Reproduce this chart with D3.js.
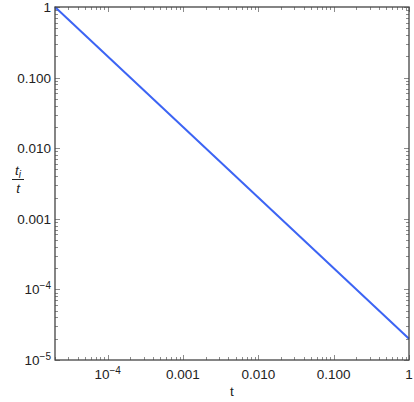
<!DOCTYPE html>
<html>
<head>
<meta charset="utf-8">
<script src="https://cdn.jsdelivr.net/npm/d3@7"></script>
<style>
  body { margin: 0; background: #fff; }
  svg { display: block; font-family: "Liberation Sans", Arial, sans-serif; }
</style>
</head>
<body>
<svg id="chart" width="414" height="402"></svg>
<script>
// data
const tVals = [0.00002, 1];
const ratioVals = [1, 0.00002];
const xTicks = [1e-4, 1e-3, 1e-2, 1e-1, 1];
const xTickLabels = ["10^-4", "0.001", "0.010", "0.100", "1"];
const yTicks = [1e-5, 1e-4, 1e-3, 1e-2, 1e-1, 1];
const yTickLabels = ["10^-5", "10^-4", "0.001", "0.010", "0.100", "1"];

const margin = { top: 7, right: 5, bottom: 42, left: 55 };
const width = 414 - margin.left - margin.right,
      height = 402 - margin.top - margin.bottom;
const fs = 13.5;

const svg = d3.select('#chart');
const g = svg.append('g').attr('transform', `translate(${margin.left},${margin.top})`);

const x = d3.scaleLog().domain([2e-5, 1]).range([0, width]);
const y = d3.scaleLog().domain([1e-5, 1]).range([height, 0]);

// minor ticks 2..9 per decade
function minors(scale) {
  const [a, b] = scale.domain();
  const out = [];
  for (let e = -6; e <= 0; e++) {
    for (let k = 2; k <= 9; k++) {
      const v = k * Math.pow(10, e);
      if (v >= a * 0.999 && v <= b * 1.001) out.push(v);
    }
  }
  return out;
}
const xMinor = minors(x), yMinor = minors(y);

const ticks = g.append('g').attr('stroke', '#8c8c8c').attr('stroke-width', 1);

// bottom + top ticks
[[height, -1], [0, 1]].forEach(([yy, dir]) => {
  ticks.selectAll(null).data(xTicks).join('line')
    .attr('x1', d => Math.round(x(d)) + 0.5).attr('x2', d => Math.round(x(d)) + 0.5)
    .attr('y1', yy).attr('y2', yy + dir * 5);
  ticks.selectAll(null).data(xMinor).join('line')
    .attr('x1', d => Math.round(x(d)) + 0.5).attr('x2', d => Math.round(x(d)) + 0.5)
    .attr('y1', yy).attr('y2', yy + dir * 3);
});
// left + right ticks
[[0, 1], [width, -1]].forEach(([xx, dir]) => {
  ticks.selectAll(null).data(yTicks).join('line')
    .attr('y1', d => Math.round(y(d)) + 0.5).attr('y2', d => Math.round(y(d)) + 0.5)
    .attr('x1', xx).attr('x2', xx + dir * 5);
  ticks.selectAll(null).data(yMinor).join('line')
    .attr('y1', d => Math.round(y(d)) + 0.5).attr('y2', d => Math.round(y(d)) + 0.5)
    .attr('x1', xx).attr('x2', xx + dir * 3);
});

// the line
const line = d3.line().x(d => x(d[0])).y(d => y(d[1]));
g.append('path')
  .datum(tVals.map((t, i) => [t, ratioVals[i]]))
  .attr('d', line)
  .attr('fill', 'none')
  .attr('stroke', '#3c64f4')
  .attr('stroke-width', 2);

// frame
g.append('rect')
  .attr('x', 0).attr('y', 0).attr('width', width).attr('height', height)
  .attr('fill', 'none').attr('stroke', '#444').attr('stroke-width', 1.3);

function writeLabel(sel, label) {
  if (label.includes('^')) {
    const [base, ex] = label.split('^');
    sel.append('tspan').text(base);
    sel.append('tspan').attr('dy', -5.5).attr('font-size', 10).text(ex.replace('-', '\u2212'));
  } else {
    sel.text(label);
  }
}

// x tick labels
xTicks.forEach((v, i) => {
  const t = g.append('text')
    .attr('x', x(v)).attr('y', height + 19)
    .attr('text-anchor', 'middle').attr('font-size', fs).attr('fill', '#222');
  writeLabel(t, xTickLabels[i]);
});
// y tick labels
yTicks.forEach((v, i) => {
  const t = g.append('text')
    .attr('x', -4).attr('y', y(v) + 5)
    .attr('text-anchor', 'end').attr('font-size', fs).attr('fill', '#222');
  writeLabel(t, yTickLabels[i]);
});

// axis labels
g.append('text')
  .attr('x', width / 2).attr('y', height + 36)
  .attr('text-anchor', 'middle').attr('font-size', fs).attr('fill', '#222')
  .text('t');

const yl = svg.append('g').attr('transform', 'translate(18,179)');
const num = yl.append('text').attr('text-anchor', 'middle').attr('y', -4)
  .attr('font-size', fs).attr('font-style', 'italic').attr('fill', '#222');
num.append('tspan').text('t');
num.append('tspan').attr('font-size', 10).attr('dy', 3).text('i');
yl.append('line').attr('x1', -6).attr('x2', 6).attr('y1', 0.5).attr('y2', 0.5)
  .attr('stroke', '#222').attr('stroke-width', 1);
yl.append('text').attr('text-anchor', 'middle').attr('y', 14)
  .attr('font-size', fs).attr('font-style', 'italic').attr('fill', '#222').text('t');
</script>
</body>
</html>
